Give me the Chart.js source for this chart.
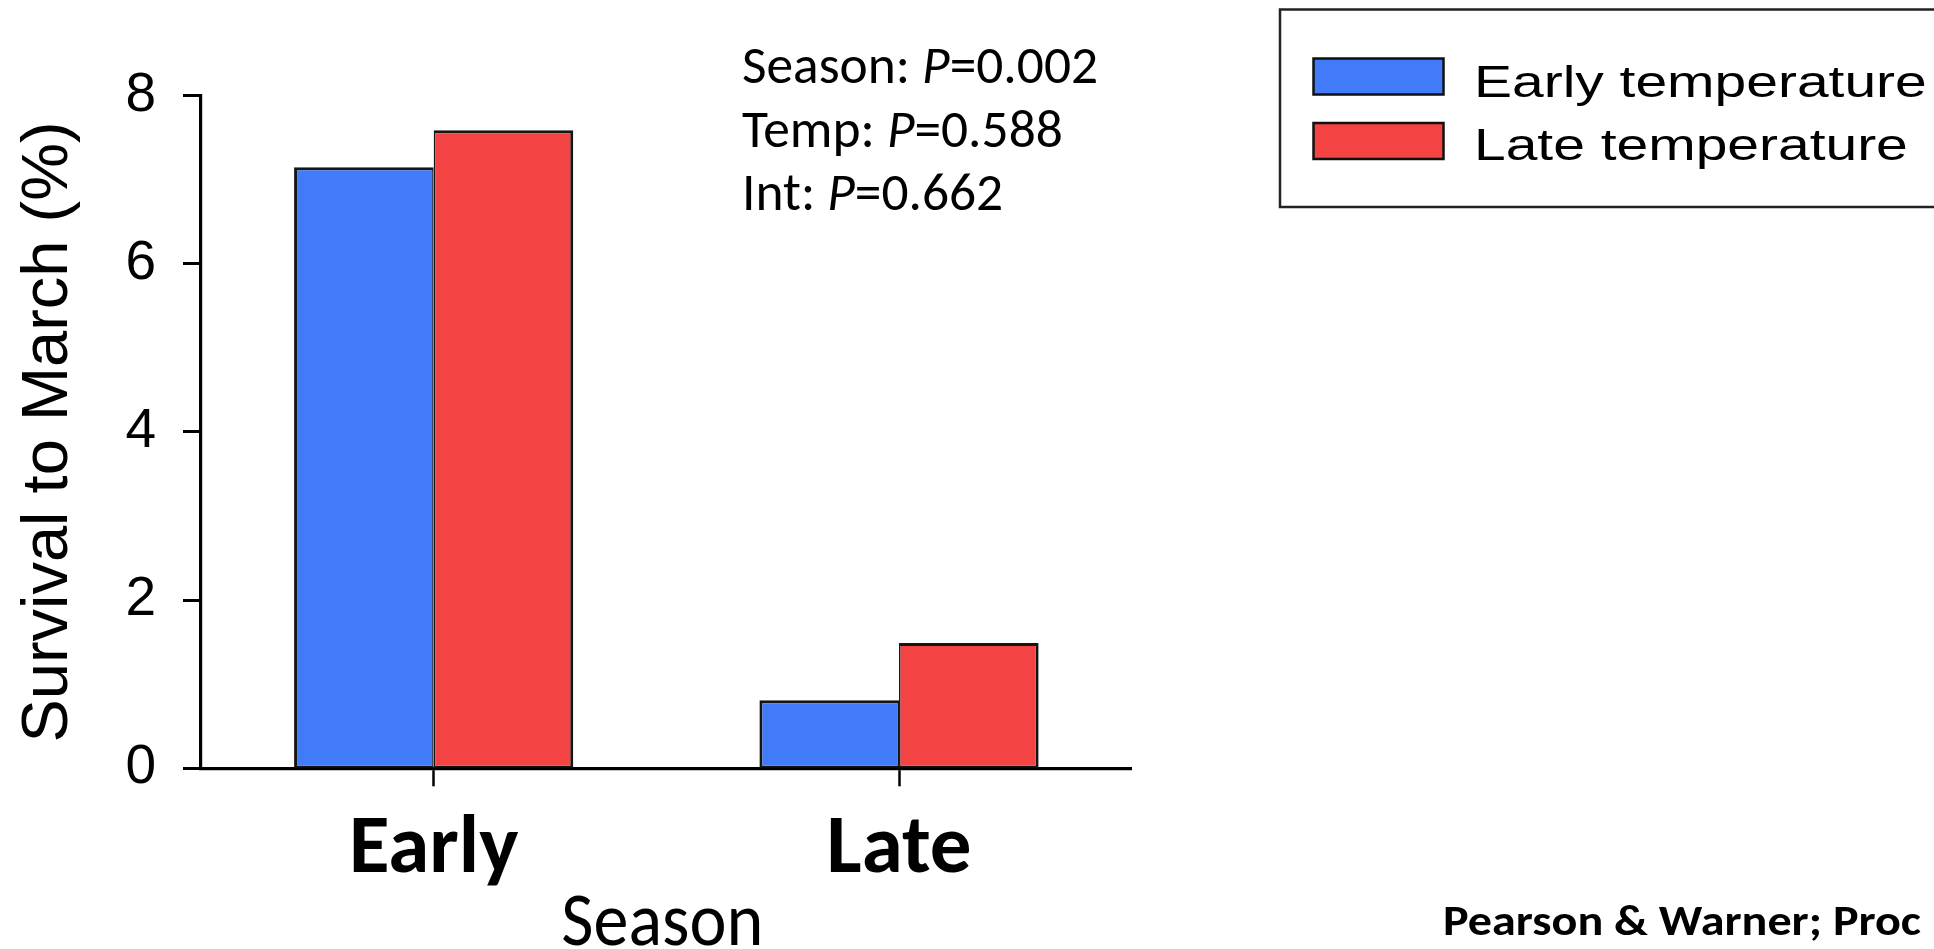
<!DOCTYPE html>
<html>
<head>
<meta charset="utf-8">
<script src="https://cdn.jsdelivr.net/npm/chart.js@4.4.1/dist/chart.umd.min.js"></script>
<style>
html,body{margin:0;padding:0;background:#fff;overflow:hidden}
#wrap{width:1934px;height:949px;position:relative}
</style>
</head>
<body>
<div id="wrap"><canvas id="c"></canvas></div>
<script>
// ---- data ----
const categories = ['Early', 'Late'];
const seriesNames = ['Early temperature', 'Late temperature'];
const earlyTempValues = [7.15, 0.81];
const lateTempValues = [7.59, 1.49];
const yTicks = [0, 2, 4, 6, 8];
const statsLines = [
  [['Season: ', false], ['P', true], ['=0.002', false]],
  [['Temp: ', false], ['P', true], ['=0.588', false]],
  [['Int: ', false], ['P', true], ['=0.662', false]]
];
const sourceNote = 'Pearson & Warner; Proc B';
const yTitle = 'Survival to March (%)';
const xTitle = 'Season';
const seriesColors = ['#427BFA', '#F44343'];

// ---- helpers ----
const CAL = 'Carlito, Lato, "Open Sans", sans-serif';
const ARIAL = '"Liberation Sans", Arial, Helvetica, sans-serif';

function drawSegs(ctx, segs, x, baseline, size, family, weight, sx, align) {
  ctx.save();
  ctx.textBaseline = 'alphabetic';
  ctx.textAlign = 'left';
  ctx.fillStyle = '#000';
  const widths = segs.map(s => {
    ctx.font = (s[1] ? 'italic ' : '') + weight + ' ' + size + 'px ' + family;
    return ctx.measureText(s[0]).width;
  });
  const total = widths.reduce((a, b) => a + b, 0);
  ctx.translate(x, baseline);
  ctx.scale(sx, 1);
  let cx = align === 'center' ? -total / 2 : 0;
  segs.forEach((s, i) => {
    ctx.font = (s[1] ? 'italic ' : '') + weight + ' ' + size + 'px ' + family;
    ctx.fillText(s[0], cx, 0);
    cx += widths[i];
  });
  ctx.restore();
}
function segWidth(ctx, segs, size, family, weight) {
  ctx.save();
  let w = 0;
  segs.forEach(s => {
    ctx.font = (s[1] ? 'italic ' : '') + weight + ' ' + size + 'px ' + family;
    w += ctx.measureText(s[0]).width;
  });
  ctx.restore();
  return w;
}

const annotationPlugin = {
  id: 'annotations',
  afterDraw(chart) {
    const ctx = chart.ctx;
    const area = chart.chartArea;
    // statistics text block
    const statSize = 53, statX = 742, statBase = [83.3, 146.7, 210], statTarget = 356;
    const sxStat = statTarget / segWidth(ctx, statsLines[0], statSize, CAL, 'normal');
    statsLines.forEach((segs, i) => drawSegs(ctx, segs, statX, statBase[i], statSize, CAL, 'normal', sxStat));

    // x-axis title (slightly condensed, as in the original)
    const xtSize = 76;
    const xtW = segWidth(ctx, [[xTitle, false]], xtSize, CAL, 'normal');
    drawSegs(ctx, [[xTitle, false]], (area.left + area.right) / 2 - 4, 945, xtSize, CAL, 'normal', 202 / xtW, 'center');

    // legend box
    ctx.save();
    ctx.strokeStyle = '#222';
    ctx.lineWidth = 2.5;
    ctx.strokeRect(1280, 9.5, 700, 197.5);
    ctx.restore();
    const swX = 1313.5, swW = 130, swH = 36, swTops = [58.5, 123];
    const txtX = 1474, txtBase = [96.7, 160], legSize = 44.5, legSx = 1.28;
    chart.data.datasets.forEach((ds, i) => {
      ctx.save();
      ctx.fillStyle = ds.backgroundColor;
      ctx.fillRect(swX, swTops[i], swW, swH);
      ctx.strokeStyle = '#111';
      ctx.lineWidth = 2.5;
      ctx.strokeRect(swX, swTops[i], swW, swH);
      ctx.restore();
      drawSegs(ctx, [[ds.label, false]], txtX, txtBase[i], legSize, ARIAL, 'normal', legSx);
    });

    // source note
    const noteSize = 42;
    const noteW = segWidth(ctx, [['Pearson & Warner; Proc', false]], noteSize, CAL, 'bold');
    drawSegs(ctx, [[sourceNote, false]], 1443, 935, noteSize, CAL, 'bold', 478 / noteW);
  }
};

new Chart(document.getElementById('c'), {
  type: 'bar',
  data: {
    labels: categories,
    datasets: [
      {
        label: seriesNames[0],
        data: earlyTempValues,
        backgroundColor: seriesColors[0],
        borderColor: '#151515',
        borderWidth: {top: 3, left: 3, right: 1.5, bottom: 2},
        borderSkipped: false
      },
      {
        label: seriesNames[1],
        data: lateTempValues,
        backgroundColor: seriesColors[1],
        borderColor: '#151515',
        borderWidth: {top: 3, left: 1.5, right: 3, bottom: 2},
        borderSkipped: false
      }
    ]
  },
  options: {
    responsive: true,
    maintainAspectRatio: false,
    animation: false,
    events: [],
    categoryPercentage: 0.6,
    barPercentage: 1.0,
    layout: {padding: {top: 95.7, right: 802.3, bottom: 0, left: 0}},
    plugins: {legend: {display: false}, tooltip: {enabled: false}},
    scales: {
      x: {
        type: 'category',
        afterFit(scale) { scale.height = 949 - 768.3; },
        grid: {display: true, drawOnChartArea: false, drawTicks: true, tickLength: 18, tickWidth: 2.5, tickColor: '#000', offset: false},
        border: {display: true, color: '#000', width: 3.2},
        ticks: {color: '#000', padding: 15, font: {family: CAL, weight: 'bold', size: 83, lineHeight: 1.2}},
        title: {display: false, text: xTitle}
      },
      y: {
        min: 0,
        max: 8,
        afterFit(scale) { scale.width = 201; },
        afterBuildTicks(scale) { scale.ticks = yTicks.map(v => ({value: v})); },
        grid: {display: true, drawOnChartArea: false, drawTicks: true, tickLength: 18, tickWidth: 3, tickColor: '#000'},
        border: {display: true, color: '#000', width: 3.2},
        ticks: {color: '#000', padding: 27, font: {family: ARIAL, size: 55, lineHeight: 1.2}},
        title: {display: true, text: yTitle, color: '#000', padding: {top: 10, bottom: 0}, font: {family: ARIAL, size: 65, lineHeight: 1.2}}
      }
    }
  },
  plugins: [annotationPlugin]
});
</script>
</body>
</html>
